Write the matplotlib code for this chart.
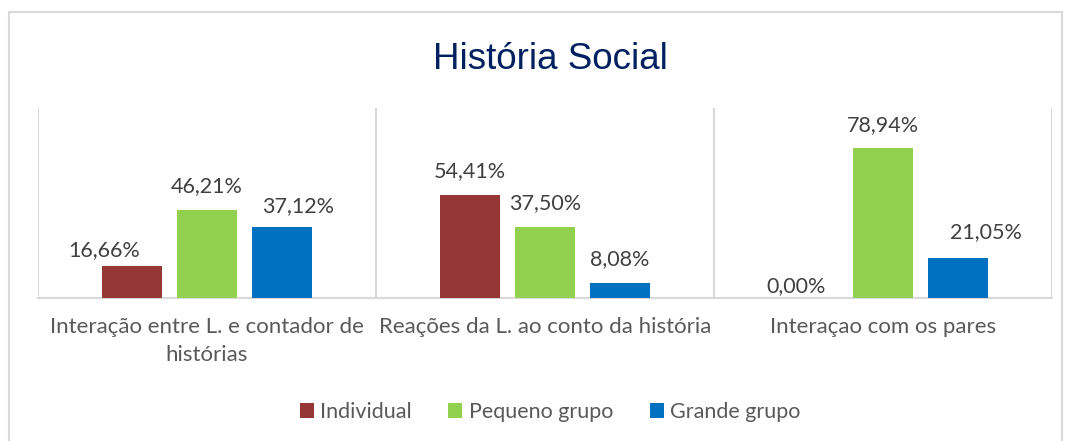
import numpy as np
import matplotlib.pyplot as plt
from matplotlib.patches import Rectangle

categorias = ["Interação entre L. e contador de\nhistórias",
              "Reações da L. ao conto da história",
              "Interaçao com os pares"]
individual = [16.66, 54.41, 0.00]
pequeno = [46.21, 37.50, 78.94]
grande = [37.12, 8.08, 21.05]
series = ["Individual", "Pequeno grupo", "Grande grupo"]

cores = ["#953735", "#92D050", "#0070C0"]
cinza = "#595959"

# deslocamentos manuais dos rótulos (pixels), como no original
desloc = [[(-28, 10), (0, 18), (16, 15)],
          [(0, 18), (0, 18), (0, 18)],
          [(-12, 6), (0, 17), (28, 20)]]

plt.rcParams['font.family'] = ['Lato', 'DejaVu Sans']

fig = plt.figure(figsize=(10.68, 4.41), dpi=100)
ax = fig.add_axes([38/1068, 1 - 298/441, (1052-38)/1068, (298-108)/441])

x = np.arange(len(categorias))
larg = 0.175
passo = 0.222
valores = [individual, pequeno, grande]
for i, (nome, vals) in enumerate(zip(series, valores)):
    pos = x + (i - 1) * passo
    ax.bar(pos, vals, larg, color=cores[i], label=nome, zorder=3)
    for j, v in enumerate(vals):
        dx, dy = desloc[j][i]
        ax.annotate(f"{v:.2f}%".replace(".", ","), (pos[j], v),
                    xytext=(dx, dy), textcoords="offset pixels",
                    ha="center", va="baseline", fontsize=15.5, color="#404040")

ax.set_xlim(-0.5, 2.5)
ax.set_ylim(0, 100)
ax.set_yticks([])
ax.set_xticks(x)
ax.set_xticklabels(categorias, fontsize=16, color=cinza, linespacing=1.45)
ax.tick_params(axis="x", length=0, pad=14)
for s in ["top", "right", "left"]:
    ax.spines[s].set_visible(False)
ax.spines["bottom"].set_color("#d9d9d9")
ax.spines["bottom"].set_linewidth(1.5)
for xv in [-0.5, 0.5, 1.5, 2.5]:
    ax.axvline(xv, color="#d9d9d9", lw=1.5, zorder=1)

fig.text(550/1068, 1 - 69/441, "História Social", ha="center", va="baseline",
         fontsize=26.5, color="#002060", family="Liberation Sans")

leg = fig.legend(loc="center", bbox_to_anchor=(550/1068, 1 - 412/441), ncol=3,
                 frameon=False, fontsize=15.5, handlelength=0.65, handleheight=0.65,
                 handletextpad=0.3, columnspacing=1.7)
for t in leg.get_texts():
    t.set_color(cinza)

fig.patches.append(Rectangle((9/1068, -0.05), (1062-9)/1068, 1.05 - 12/441,
                             transform=fig.transFigure, fill=False,
                             edgecolor="#d9d9d9", lw=1.5))

fig.savefig("out.png", dpi=100)
